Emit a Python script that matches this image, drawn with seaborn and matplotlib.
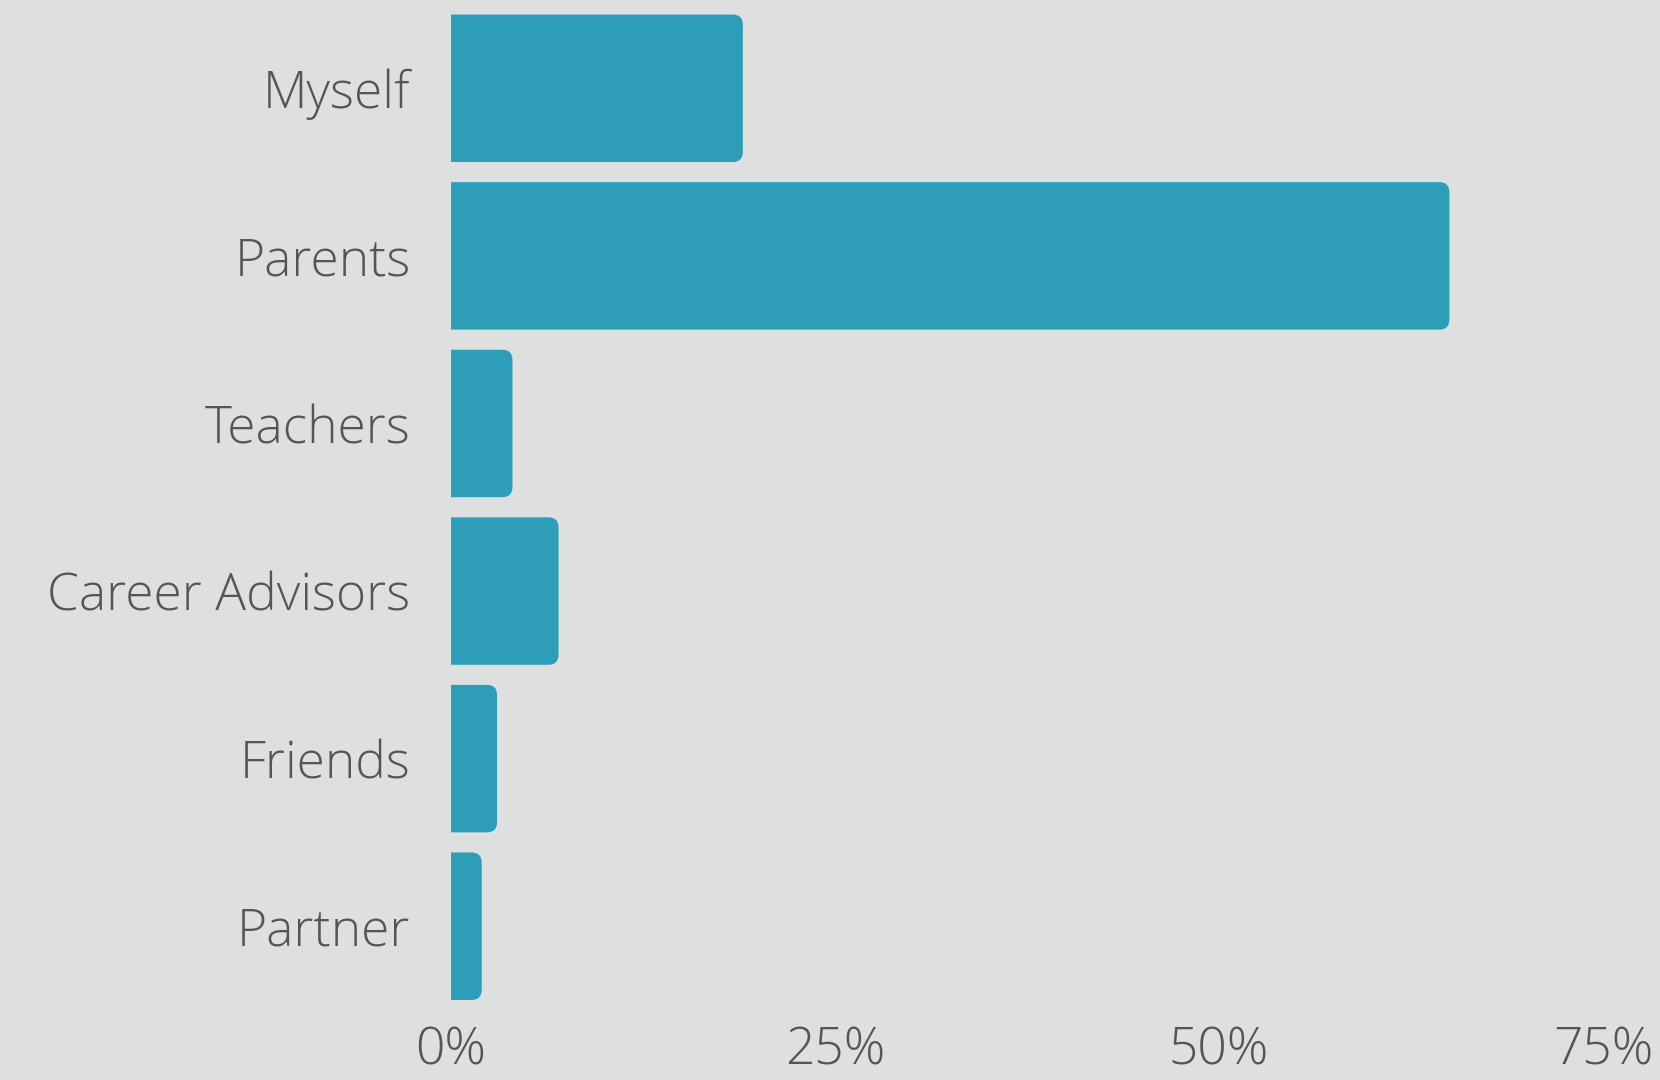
import matplotlib
matplotlib.use("Agg")
import matplotlib.pyplot as plt
from matplotlib.patches import FancyBboxPatch
from matplotlib.ticker import FuncFormatter, FixedLocator
import seaborn as sns
import pandas as pd

# Who influenced the career choice (share of respondents, %)
categories = ["Myself", "Parents", "Teachers", "Career Advisors", "Friends", "Partner"]
shares = [19, 65, 4, 7, 3, 2]
x_ticks = [0, 25, 50, 75]

bg = "#DEE0DF"
bar_color = "#2D9DB8"
text_color = "#555555"

sns.set_theme(style="white")
plt.rcParams["font.family"] = ["Open Sans", "DejaVu Sans"]

df = pd.DataFrame({"source": categories, "share": shares})

fig = plt.figure(figsize=(16.6, 10.8), dpi=100, facecolor=bg)
ax = fig.add_axes([451 / 1660, 1 - 1010 / 1080, (1603 - 451) / 1660, (1010 - 4.5) / 1080])
ax.set_facecolor(bg)

sns.barplot(data=df, x="share", y="source", orient="h", color=bar_color,
            width=0.88, saturation=1, ax=ax)

# swap the plain bars for ones with rounded right-hand corners
for p in list(ax.patches):
    y, h, w = p.get_y(), p.get_height(), p.get_width()
    p.set_visible(False)
    rb = FancyBboxPatch((-1, y), w + 1, h,
                        boxstyle="round,pad=0,rounding_size=0.65",
                        mutation_aspect=0.092, facecolor=bar_color,
                        edgecolor="none", clip_on=True)
    ax.add_patch(rb)

ax.set_xlim(0, 75)
ax.set_ylim(5.5, -0.5)
ax.xaxis.set_major_locator(FixedLocator(x_ticks))
ax.xaxis.set_major_formatter(FuncFormatter(lambda v, _: f"{v:.0f}%"))
for s in ax.spines.values():
    s.set_visible(False)
ax.set_xlabel("")
ax.set_ylabel("")
ax.tick_params(axis="both", length=0, labelsize=37, labelcolor=text_color)
ax.tick_params(axis="y", pad=29)
ax.tick_params(axis="x", pad=11)
for t in ax.get_xticklabels() + ax.get_yticklabels():
    t.set_fontweight("light")
ax.grid(False)

fig.savefig("out.png", dpi=100, facecolor=bg)
